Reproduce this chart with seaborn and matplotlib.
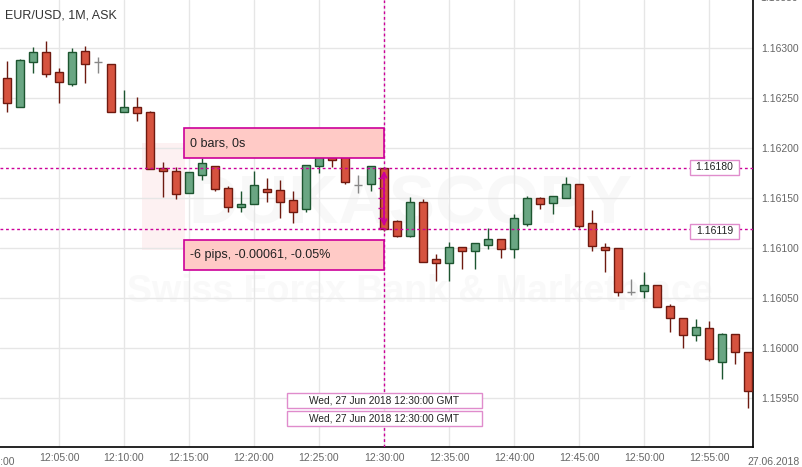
import numpy as np
import pandas as pd
import matplotlib
matplotlib.use("Agg")
import matplotlib.pyplot as plt
from matplotlib.patches import Rectangle
import seaborn as sns

# EUR/USD 1 minute candles, 27 Jun 2018, minute after 12:00
minutes = list(range(1, 59))
opens = [1.16270, 1.16241, 1.16286, 1.16296, 1.16276, 1.16264, 1.16297, 1.16286, 1.16284, 1.16236,
         1.16241, 1.16236, 1.16180, 1.16177, 1.16155, 1.16173, 1.16182, 1.16160, 1.16141, 1.16144,
         1.16159, 1.16158, 1.16148, 1.16139, 1.16182, 1.16191, 1.16192, 1.16163, 1.16164, 1.16180,
         1.16127, 1.16112, 1.16146, 1.16089, 1.16085, 1.16101, 1.16097, 1.16103, 1.16109, 1.16099,
         1.16124, 1.16150, 1.16145, 1.16150, 1.16164, 1.16125, 1.16101, 1.16100, 1.16056, 1.16057,
         1.16063, 1.16042, 1.16030, 1.16013, 1.16020, 1.15986, 1.16014, 1.15996]
highs = [1.16287, 1.16289, 1.16301, 1.16307, 1.16280, 1.16300, 1.16302, 1.16291, 1.16284, 1.16258,
         1.16251, 1.16237, 1.16186, 1.16181, 1.16176, 1.16190, 1.16182, 1.16162, 1.16157, 1.16177,
         1.16170, 1.16168, 1.16157, 1.16183, 1.16195, 1.16195, 1.16195, 1.16173, 1.16182, 1.16181,
         1.16128, 1.16151, 1.16149, 1.16094, 1.16106, 1.16101, 1.16105, 1.16120, 1.16109, 1.16134,
         1.16152, 1.16151, 1.16152, 1.16171, 1.16164, 1.16138, 1.16105, 1.16100, 1.16069, 1.16076,
         1.16063, 1.16044, 1.16030, 1.16029, 1.16027, 1.16015, 1.16014, 1.15996]
lows = [1.16236, 1.16241, 1.16275, 1.16271, 1.16245, 1.16262, 1.16265, 1.16275, 1.16236, 1.16236,
        1.16227, 1.16179, 1.16151, 1.16149, 1.16155, 1.16168, 1.16157, 1.16136, 1.16136, 1.16144,
        1.16146, 1.16130, 1.16125, 1.16136, 1.16175, 1.16181, 1.16164, 1.16155, 1.16157, 1.16117,
        1.16111, 1.16111, 1.16086, 1.16067, 1.16067, 1.16079, 1.16079, 1.16099, 1.16090, 1.16090,
        1.16122, 1.16139, 1.16134, 1.16150, 1.16120, 1.16097, 1.16076, 1.16052, 1.16053, 1.16050,
        1.16041, 1.16016, 1.16000, 1.16007, 1.15987, 1.15969, 1.15984, 1.15940]
closes = [1.16245, 1.16288, 1.16296, 1.16274, 1.16266, 1.16296, 1.16284, 1.16286, 1.16236, 1.16241,
          1.16235, 1.16179, 1.16177, 1.16154, 1.16176, 1.16185, 1.16159, 1.16141, 1.16144, 1.16163,
          1.16156, 1.16146, 1.16136, 1.16183, 1.16191, 1.16188, 1.16166, 1.16163, 1.16182, 1.16119,
          1.16112, 1.16146, 1.16086, 1.16085, 1.16101, 1.16097, 1.16105, 1.16109, 1.16099, 1.16130,
          1.16150, 1.16144, 1.16152, 1.16164, 1.16122, 1.16102, 1.16098, 1.16056, 1.16056, 1.16063,
          1.16041, 1.16030, 1.16013, 1.16021, 1.15989, 1.16014, 1.15996, 1.15957]

y_ticks = [1.15950, 1.16000, 1.16050, 1.16100, 1.16150, 1.16200, 1.16250, 1.16300]
x_ticks = [5, 10, 15, 20, 25, 30, 35, 40, 45, 50, 55]
measured_minute = 30
date_label = "27.06.2018"
cursor_label = "Wed, 27 Jun 2018 12:30:00 GMT"

df = pd.DataFrame({"m": minutes, "open": opens, "high": highs, "low": lows, "close": closes})

W, H = 803, 467
sns.set_theme(style="white")
plt.rcParams["font.family"] = ["Liberation Sans", "DejaVu Sans"]

fig = plt.figure(figsize=(W / 100, H / 100), dpi=100)
ax = fig.add_axes([0, 20 / H, 753 / W, 1 - 20 / H])


def fx(px):
    return px / W


def fy(py):
    return 1 - py / H


# watermark
ax.add_patch(Rectangle((fx(142), fy(250)), 43 / W, 107 / H, transform=fig.transFigure,
                       facecolor="#fdf1f2", edgecolor="none", zorder=0.2))
ax.text(fx(410), fy(205), "DUKASCOPY", transform=fig.transFigure, ha="center", va="center",
        fontsize=50, fontweight="bold", color="#f8f8f8", zorder=0.3)
ax.text(fx(420), fy(292), "Swiss Forex Bank & Marketplace", transform=fig.transFigure,
        ha="center", va="center", fontsize=27, fontweight="bold", color="#f9f9f9", zorder=0.3)

red_fill, red_edge = "#d6533f", "#6e1a10"
green_fill, green_edge = "#6aa683", "#1d5530"
doji = "#888888"
bw = 0.64

for _, r in df.iterrows():
    if r["open"] == r["close"]:
        ax.vlines(r["m"], r["low"], r["high"], color=doji, lw=1, zorder=3)
        ax.hlines(r["open"], r["m"] - bw / 2, r["m"] + bw / 2, color=doji, lw=1, zorder=3)
        continue
    up = r["close"] > r["open"]
    fill, edge = (green_fill, green_edge) if up else (red_fill, red_edge)
    ax.vlines(r["m"], r["low"], r["high"], color=edge, lw=1, zorder=2)
    ax.bar(r["m"], abs(r["close"] - r["open"]), bottom=min(r["open"], r["close"]), width=bw,
           color=fill, edgecolor=edge, linewidth=1, zorder=3)

# measurement on the selected candle
mrow = df[df["m"] == measured_minute].iloc[0]
p_open, p_close = mrow["open"], mrow["close"]
mag = "#cc0099"
ax.axhline(p_open, color=mag, lw=1, ls=(0, (2, 2)), zorder=4)
ax.axhline(p_close, color=mag, lw=1, ls=(0, (2, 2)), zorder=4)
ax.axvline(measured_minute, color=mag, lw=1, ls=(0, (2, 2)), zorder=4)
ax.annotate("", xy=(measured_minute, p_close), xytext=(measured_minute, p_open),
            arrowprops=dict(arrowstyle="<->", color=mag, lw=1.3, mutation_scale=9), zorder=5)
for lev in np.arange(p_open - 0.0001, p_close, -0.0001):
    ax.hlines(lev, measured_minute - 0.45, measured_minute, color=mag, lw=1, zorder=5)

ax.set_xlim(6 / 13, 759 / 13)
ax.set_ylim(1.15901, 1.16348)
ax.set_xticks(x_ticks)
ax.set_xticklabels([f"12:{m:02d}:00" for m in x_ticks])
ax.set_yticks(y_ticks)
ax.set_yticklabels([f"{v:.5f}" for v in y_ticks])
ax.yaxis.tick_right()
ax.tick_params(axis="both", length=0, labelsize=7.5, labelcolor="#666666")
ax.tick_params(axis="y", pad=6)
ax.tick_params(axis="x", pad=4)
ax.grid(True, color="#e6e6e6", lw=1)
ax.set_axisbelow(True)
for s in ["top", "left"]:
    ax.spines[s].set_visible(False)
for s in ["right", "bottom"]:
    ax.spines[s].set_color("black")
    ax.spines[s].set_linewidth(1.2)

# labels outside the visible range (cut by the figure edge, as in the terminal)
ax.text(0, -0.022, "12:00:00", transform=ax.get_xaxis_transform(), ha="center", va="top",
        fontsize=7.5, color="#666666", clip_on=False)
ax.text(60, -0.022, date_label, transform=ax.get_xaxis_transform(), ha="center", va="top",
        fontsize=7.5, color="#666666", clip_on=False)
ax.text(1.009, 1.16350, "1.16350", transform=ax.get_yaxis_transform(), ha="left", va="center",
        fontsize=7.5, color="#666666", clip_on=False)

ax.text(fx(5), fy(15), "EUR/USD, 1M, ASK", transform=fig.transFigure, ha="left", va="center",
        fontsize=9, color="#333333", zorder=6)


def box(x0, y0, x1, y1, text, fc, ec, size, ha="left", lw=1.2):
    fig.add_artist(Rectangle((fx(x0), fy(y1)), (x1 - x0) / W, (y1 - y0) / H,
                             transform=fig.transFigure, facecolor=fc, edgecolor=ec, lw=lw))
    tx = x0 + 6 if ha == "left" else (x0 + x1) / 2
    fig.text(fx(tx), fy((y0 + y1) / 2), text, ha=ha, va="center", fontsize=size, color="#222222")


diff = p_close - p_open
pips = round(diff * 10000)
pct = diff / p_open * 100
box(184, 128, 384, 158, "0 bars, 0s", "#ffcac6", mag, 9)
box(184, 240, 384, 270, f"{pips} pips, {diff:.5f}, {pct:.2f}%", "#ffcac6", mag, 9)
box(287, 393, 482, 408, cursor_label, "white", "#e08ccc", 7.3, ha="center", lw=1)
box(287, 411, 482, 426, cursor_label, "white", "#e08ccc", 7.3, ha="center", lw=1)
box(690, 160, 739, 175, f"{p_open:.5f}", "white", "#e08ccc", 7.5, ha="center", lw=1)
box(690, 224, 739, 239, f"{p_close:.5f}", "white", "#e08ccc", 7.5, ha="center", lw=1)

fig.savefig("out.png", dpi=100)
